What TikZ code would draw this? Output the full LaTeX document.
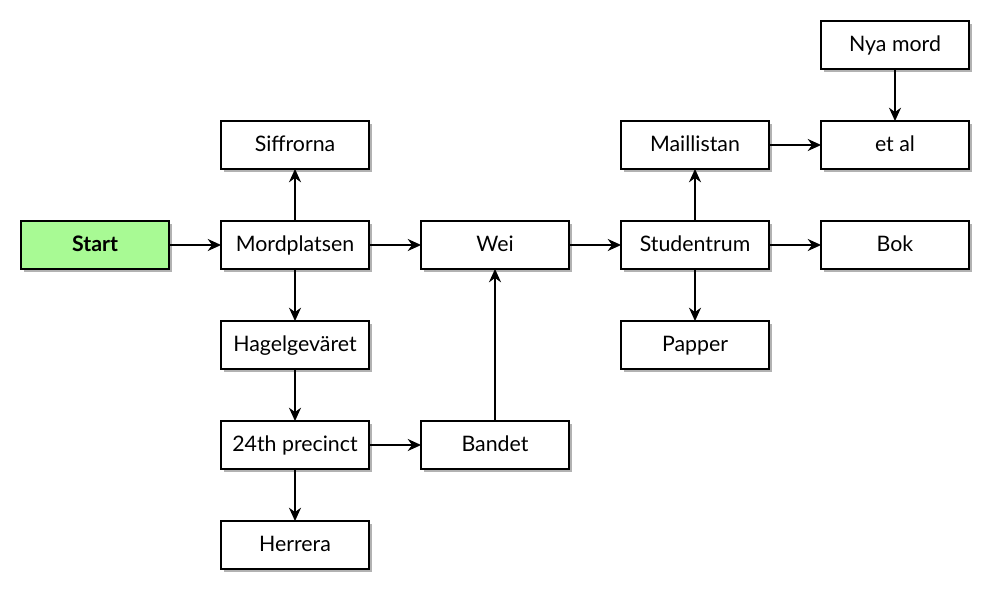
\documentclass[tikz,border=0pt]{standalone}
\usepackage{fontspec}
\setmainfont{Lato}
\usetikzlibrary{arrows.meta,shadows}
\definecolor{startgreen}{RGB}{168,250,148}
\begin{document}
\begin{tikzpicture}[x=0.75pt,y=-0.75pt,
  box/.style={draw=black, line width=1.6pt, fill=white, minimum width=110.9pt, minimum height=35.9pt,
    inner sep=0pt, outer sep=0pt, text height=12pt, text depth=2pt, font=\fontsize{16pt}{18pt}\selectfont,
    drop shadow={shadow xshift=2.4pt, shadow yshift=-2.4pt, fill=black, opacity=0.3}},
  startbox/.style={box, fill=startgreen, font=\fontsize{16pt}{18pt}\selectfont\bfseries},
  conn/.style={line width=1.6pt, -{Stealth[length=10pt,width=9pt]}}]
\useasboundingbox (0,0) rectangle (987,588);
\node[startbox] (start) at (95,245) {Start};
\node[box] (mord) at (295,245) {Mordplatsen};
\node[box] (siff) at (295,145) {Siffrorna};
\node[box] (hagel) at (295,345) {Hagelgeväret};
\node[box] (p24) at (295,445) {24th precinct};
\node[box] (herr) at (295,545) {Herrera};
\node[box] (bandet) at (495,445) {Bandet};
\node[box] (wei) at (495,245) {Wei};
\node[box] (stud) at (695,245) {Studentrum};
\node[box] (mail) at (695,145) {Maillistan};
\node[box] (papper) at (695,345) {Papper};
\node[box] (bok) at (895,245) {Bok};
\node[box] (etal) at (895,145) {et al};
\node[box] (nya) at (895,45) {Nya mord};
\draw[conn] (start) -- (mord);
\draw[conn] (mord) -- (siff);
\draw[conn] (mord) -- (wei);
\draw[conn] (mord) -- (hagel);
\draw[conn] (hagel) -- (p24);
\draw[conn] (p24) -- (herr);
\draw[conn] (p24) -- (bandet);
\draw[conn] (bandet) -- (wei);
\draw[conn] (wei) -- (stud);
\draw[conn] (stud) -- (mail);
\draw[conn] (stud) -- (bok);
\draw[conn] (stud) -- (papper);
\draw[conn] (mail) -- (etal);
\draw[conn] (nya) -- (etal);
\end{tikzpicture}
\end{document}
